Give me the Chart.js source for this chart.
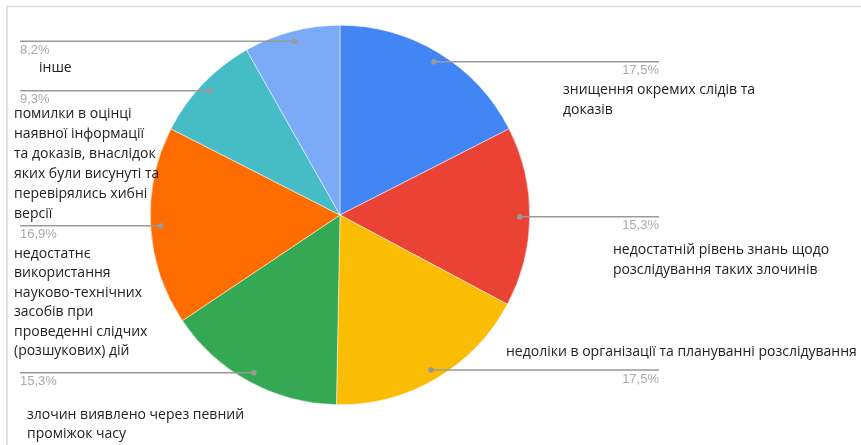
<!DOCTYPE html>
<html>
<head>
<meta charset="utf-8">
<script src="https://cdn.jsdelivr.net/npm/chart.js@4"></script>
<style>
  html, body { margin: 0; padding: 0; background: #fff; }
  #wrap { position: relative; width: 861px; height: 445px; }
</style>
</head>
<body>
<div id="wrap"><canvas id="chart-1" width="861" height="445"></canvas></div>
<script>
// ====== дані ======
const categories = [
  'знищення окремих слідів та доказів',
  'недостатній рівень знань щодо розслідування таких злочинів',
  'недоліки в організації та плануванні розслідування',
  'злочин виявлено через певний проміжок часу',
  'недостатнє використання науково-технічних засобів при проведенні слідчих (розшукових) дій',
  'помилки в оцінці наявної інформації та доказів, внаслідок яких були висунуті та перевірялись хибні версії',
  'інше'
];
const shares = [17.5, 15.3, 17.5, 15.3, 16.9, 9.3, 8.2];
const colors = ['#4285F4', '#EA4335', '#FBBC04', '#34A853', '#FF6D01', '#46BDC6', '#7BAAF7'];

// рядки підписів, як у картинці
const labelLines = [
  ['знищення окремих слідів та', 'доказів'],
  ['недостатній рівень знань щодо', 'розслідування таких злочинів'],
  ['недоліки в організації та плануванні розслідування'],
  ['злочин виявлено через певний', 'проміжок часу'],
  ['недостатнє', 'використання', 'науково-технічних', 'засобів при', 'проведенні слідчих', '(розшукових) дій'],
  ['помилки в оцінці', 'наявної інформації', 'та доказів, внаслідок', 'яких були висунуті та', 'перевірялись хибні', 'версії'],
  ['інше']
];

// розміщення підписів (x, y першого рядка, крок)
const labelPos = [
  { x: 563, y: 90, step: 20 },
  { x: 613, y: 250, step: 20 },
  { x: 506, y: 352, step: 20 },
  { x: 27, y: 415, step: 19 },
  { x: 14, y: 254, step: 19.5 },
  { x: 14, y: 114, step: 20 },
  { x: 39, y: 68, step: 20 }
];

const leaderPlugin = {
  id: 'leaders',
  afterDatasetsDraw(chart) {
    const c = chart.ctx;
    const arcs = chart.getDatasetMeta(0).data;
    c.save();
    // рамка
    c.strokeStyle = '#dcdcdc';
    c.lineWidth = 1.5;
    c.beginPath();
    c.moveTo(7, 445);
    c.lineTo(7, 6.5);
    c.lineTo(861, 6.5);
    c.stroke();

    arcs.forEach((arc, i) => {
      const mid = (arc.startAngle + arc.endAngle) / 2;
      const r = arc.outerRadius * 0.947;
      const px = arc.x + Math.cos(mid) * r;
      const py = arc.y + Math.sin(mid) * r;
      const right = Math.cos(mid) > 0;
      const endX = right ? 659 : 20;

      c.strokeStyle = '#999';
      c.lineWidth = 1.5;
      c.beginPath();
      c.moveTo(px, py);
      c.lineTo(endX, py);
      c.stroke();
      c.fillStyle = '#999';
      c.beginPath();
      c.arc(px, py, 2.8, 0, Math.PI * 2);
      c.fill();

      c.font = '13px "Liberation Sans", Arial, sans-serif';
      c.fillStyle = '#aaa';
      c.textBaseline = 'middle';
      c.textAlign = right ? 'right' : 'left';
      c.fillText(shares[i].toFixed(1).replace('.', ',') + '%', endX, py + 9);

      c.font = '14px "Open Sans", sans-serif';
      c.fillStyle = '#222';
      c.textAlign = 'left';
      const p = labelPos[i];
      labelLines[i].forEach((t, k) => c.fillText(t, p.x, p.y + k * p.step));
    });
    c.restore();
  }
};

const ctx1 = document.getElementById('chart-1');

new Chart(ctx1, {
  type: 'pie',
  data: {
    labels: categories,
    datasets: [{
      data: shares,
      backgroundColor: colors,
      borderColor: '#fff',
      borderWidth: 0.5
    }]
  },
  options: {
    responsive: false,
    animation: false,
    devicePixelRatio: 1,
    layout: { padding: { left: 150, right: 331, top: 25, bottom: 40 } },
    plugins: {
      legend: { display: false },
      tooltip: { enabled: false }
    }
  },
  plugins: [leaderPlugin]
});
</script>
</body>
</html>
